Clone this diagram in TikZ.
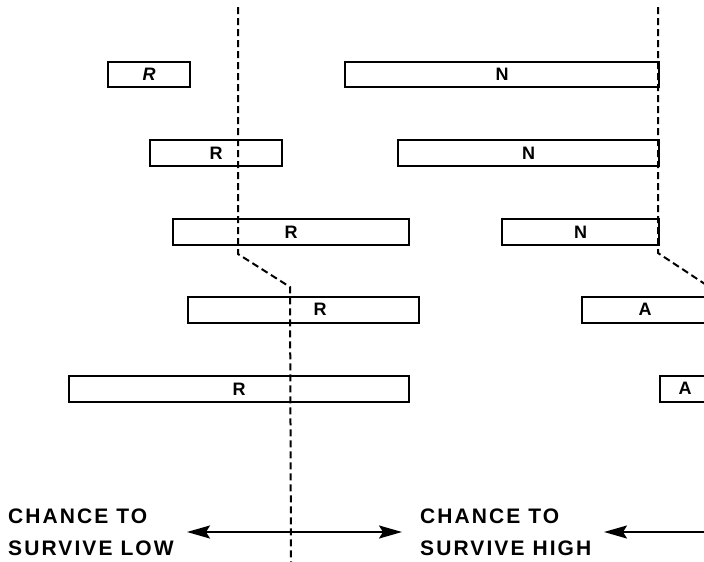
\documentclass[tikz,border=0pt]{standalone}
\usepackage{fontspec}
\setmainfont{Liberation Sans}
\newfontfamily\lblfont[LetterSpace=10]{Liberation Sans}
\usetikzlibrary{arrows.meta}
\begin{document}
\begin{tikzpicture}[x=1pt,y=-1pt,
  bar/.style={draw, line width=2pt, inner sep=0pt, anchor=north west},
  letter/.style={font=\fontsize{18}{18}\selectfont\bfseries, inner sep=0pt},
  bound/.style={line width=2pt, dash pattern=on 7pt off 4pt},
  scale arrow/.style={line width=2pt, {Stealth[length=23pt,width=13pt,inset=4pt]}-{Stealth[length=23pt,width=13pt,inset=4pt]}},
  one arrow/.style={line width=2pt, {Stealth[length=23pt,width=13pt,inset=4pt]}-},
  caption/.style={font=\lblfont\fontsize{21}{21}\selectfont\bfseries, anchor=base west, inner sep=0pt}]
\useasboundingbox (0,0) rectangle (704,562);
\clip (0,0) rectangle (704,562);
% R bars
\node[bar, minimum width=82pt, minimum height=25pt] (r1) at (107,61) {};
\node[letter] (r1t) at (r1.center) {\itshape R};
\node[bar, minimum width=132pt, minimum height=26pt] (r2) at (149,139) {};
\node[letter] (r2t) at (r2.center) {R};
\node[bar, minimum width=236pt, minimum height=26pt] (r3) at (172,218) {};
\node[letter] (r3t) at (r3.center) {R};
\node[bar, minimum width=231pt, minimum height=26pt] (r4) at (187,296) {};
\node[letter] (r4t) at (320,309) {R};
\node[bar, minimum width=340pt, minimum height=26pt] (r5) at (68,375) {};
\node[letter] (r5t) at (r5.center) {R};
% N bars
\node[bar, minimum width=314pt, minimum height=25pt] (n1) at (344,61) {};
\node[letter] (n1t) at (n1.center) {N};
\node[bar, minimum width=261pt, minimum height=26pt] (n2) at (397,139) {};
\node[letter] (n2t) at (n2.center) {N};
\node[bar, minimum width=157pt, minimum height=26pt] (n3) at (501,218) {};
\node[letter] (n3t) at (n3.center) {N};
% A bars
\node[bar, minimum width=130pt, minimum height=26pt] (a1) at (581,296) {};
\node[letter] (a1t) at (645,309) {A};
\node[bar, minimum width=54pt, minimum height=26pt] (a2) at (659,375) {};
\node[letter] (a2t) at (685,388) {A};
% boundaries
\draw[bound] (238,7) -- (238,254) -- (290,287) -- (291,562);
\draw[bound] (658,7) -- (658,253) -- (720,294);
% arrows
\coordinate (la) at (187,532);
\coordinate (ra) at (402,532);
\coordinate (hb) at (604,532);
\coordinate (he) at (710,532);
\draw[scale arrow] (la) -- (ra);
\draw[one arrow] (hb) -- (he);
% captions
\node[caption] (c1) at (8,523) {CHANCE TO};
\node[caption] (c2) at (8,555) {SURVIVE LOW};
\node[caption] (c3) at (420,523) {CHANCE TO};
\node[caption] (c4) at (420,555) {SURVIVE HIGH};
\end{tikzpicture}
\end{document}
